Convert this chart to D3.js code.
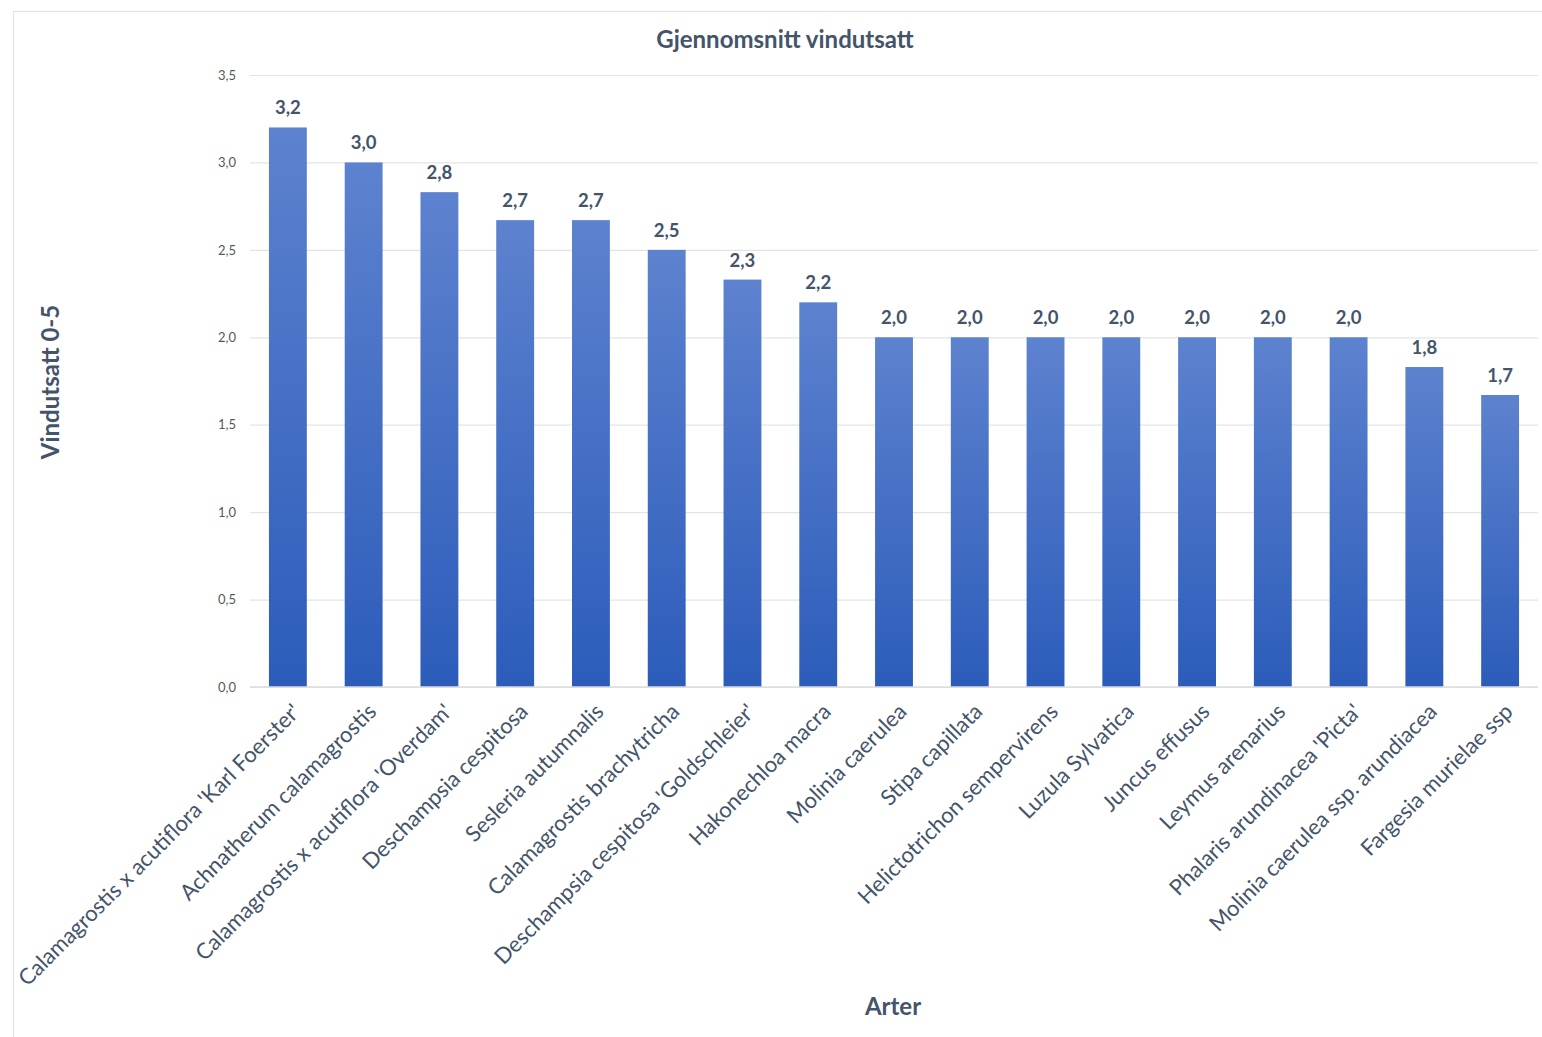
<!DOCTYPE html>
<html>
<head>
<meta charset="utf-8">
<script src="https://cdn.jsdelivr.net/npm/d3@7"></script>
<style>
  html, body { margin: 0; padding: 0; background: #fff; }
  svg { display: block; }
</style>
</head>
<body>
<svg id="chart" width="1542" height="1037"></svg>
<script>
// Species and their mean wind-exposure score (0–5)
const species = [
  "Calamagrostis x acutiflora 'Karl Foerster'",
  "Achnatherum calamagrostis",
  "Calamagrostis x acutiflora 'Overdam'",
  "Deschampsia cespitosa",
  "Sesleria autumnalis",
  "Calamagrostis brachytricha",
  "Deschampsia cespitosa 'Goldschleier'",
  "Hakonechloa macra",
  "Molinia caerulea",
  "Stipa capillata",
  "Helictotrichon sempervirens",
  "Luzula Sylvatica",
  "Juncus effusus",
  "Leymus arenarius",
  "Phalaris arundinacea 'Picta'",
  "Molinia caerulea ssp. arundiacea",
  "Fargesia murielae ssp"
];
const meanScore = [3.2, 3.0, 2.83, 2.67, 2.67, 2.5, 2.33, 2.2, 2.0, 2.0, 2.0, 2.0, 2.0, 2.0, 2.0, 1.83, 1.67];
const yTicks = [0, 0.5, 1.0, 1.5, 2.0, 2.5, 3.0, 3.5];

const chartTitle = "Gjennomsnitt vindutsatt";
const yTitle = "Vindutsatt 0-5";
const xTitle = "Arter";

const svg = d3.select("#chart");
const font = "Lato, 'Open Sans', sans-serif";
const dark = "#44546A";

// outer chart frame
svg.append("rect")
  .attr("x", 13.5).attr("y", 11.5)
  .attr("width", 1542).attr("height", 1040)
  .attr("fill", "#fff").attr("stroke", "#e3e3e3").attr("stroke-width", 1.2);

const plotLeft = 250, plotRight = 1538, plotTop = 75, plotBottom = 687;

const x = d3.scaleBand().domain(species).range([plotLeft, plotRight]).paddingInner(0.5).paddingOuter(0.25);
const y = d3.scaleLinear().domain([0, 3.5]).range([plotBottom, plotTop]);

const comma = v => d3.format(".1f")(v).replace(".", ",");

// vertical gradient used by each bar
const grad = svg.append("defs").append("linearGradient")
  .attr("id", "barGrad").attr("x1", 0).attr("y1", 0).attr("x2", 0).attr("y2", 1);
grad.append("stop").attr("offset", "0%").attr("stop-color", "#5D82CF");
grad.append("stop").attr("offset", "100%").attr("stop-color", "#2C5CBA");

// gridlines
const yAxis = d3.axisLeft(y).tickValues(yTicks).tickSize(-(plotRight - plotLeft)).tickFormat(comma).tickPadding(14);
const gy = svg.append("g").attr("transform", `translate(${plotLeft},0)`).call(yAxis);
gy.select(".domain").remove();
gy.selectAll(".tick line").attr("stroke", "#e4e4e4").attr("stroke-width", 1.2);
gy.selectAll(".tick text")
  .attr("fill", "#595959").attr("font-size", 13).attr("font-family", font);

// bars
svg.append("g").selectAll("rect")
  .data(species)
  .join("rect")
  .attr("x", d => x(d))
  .attr("width", x.bandwidth())
  .attr("y", (d, i) => y(meanScore[i]))
  .attr("height", (d, i) => y(0) - y(meanScore[i]))
  .attr("fill", "url(#barGrad)");

// baseline
svg.append("line")
  .attr("x1", plotLeft).attr("x2", plotRight)
  .attr("y1", y(0)).attr("y2", y(0))
  .attr("stroke", "#dcdcdc").attr("stroke-width", 1.5);

// value labels
svg.append("g").selectAll("text")
  .data(species)
  .join("text")
  .attr("x", d => x(d) + x.bandwidth() / 2)
  .attr("y", (d, i) => y(meanScore[i]) - 13)
  .attr("text-anchor", "middle")
  .attr("font-family", font).attr("font-weight", 700).attr("font-size", 18.5)
  .attr("fill", dark)
  .text((d, i) => comma(meanScore[i]));

// category labels, rotated
const xAxis = d3.axisBottom(x).tickSize(0).tickPadding(0);
const gx = svg.append("g").attr("transform", `translate(0,${plotBottom})`).call(xAxis);
gx.select(".domain").remove();
gx.selectAll(".tick text")
  .attr("font-family", font).attr("font-size", 22).attr("fill", dark)
  .attr("text-anchor", "end")
  .attr("dy", "0")
  .attr("transform", "translate(14,26) rotate(-45)");

// titles
svg.append("text")
  .attr("x", 785).attr("y", 48)
  .attr("text-anchor", "middle")
  .attr("font-family", font).attr("font-weight", 700).attr("font-size", 24)
  .attr("fill", dark).text(chartTitle);

svg.append("text")
  .attr("transform", "translate(59,382) rotate(-90)")
  .attr("text-anchor", "middle")
  .attr("font-family", font).attr("font-weight", 700).attr("font-size", 24)
  .attr("fill", dark).text(yTitle);

svg.append("text")
  .attr("x", 893).attr("y", 1015)
  .attr("text-anchor", "middle")
  .attr("font-family", font).attr("font-weight", 700).attr("font-size", 24)
  .attr("fill", dark).text(xTitle);
</script>
</body>
</html>
